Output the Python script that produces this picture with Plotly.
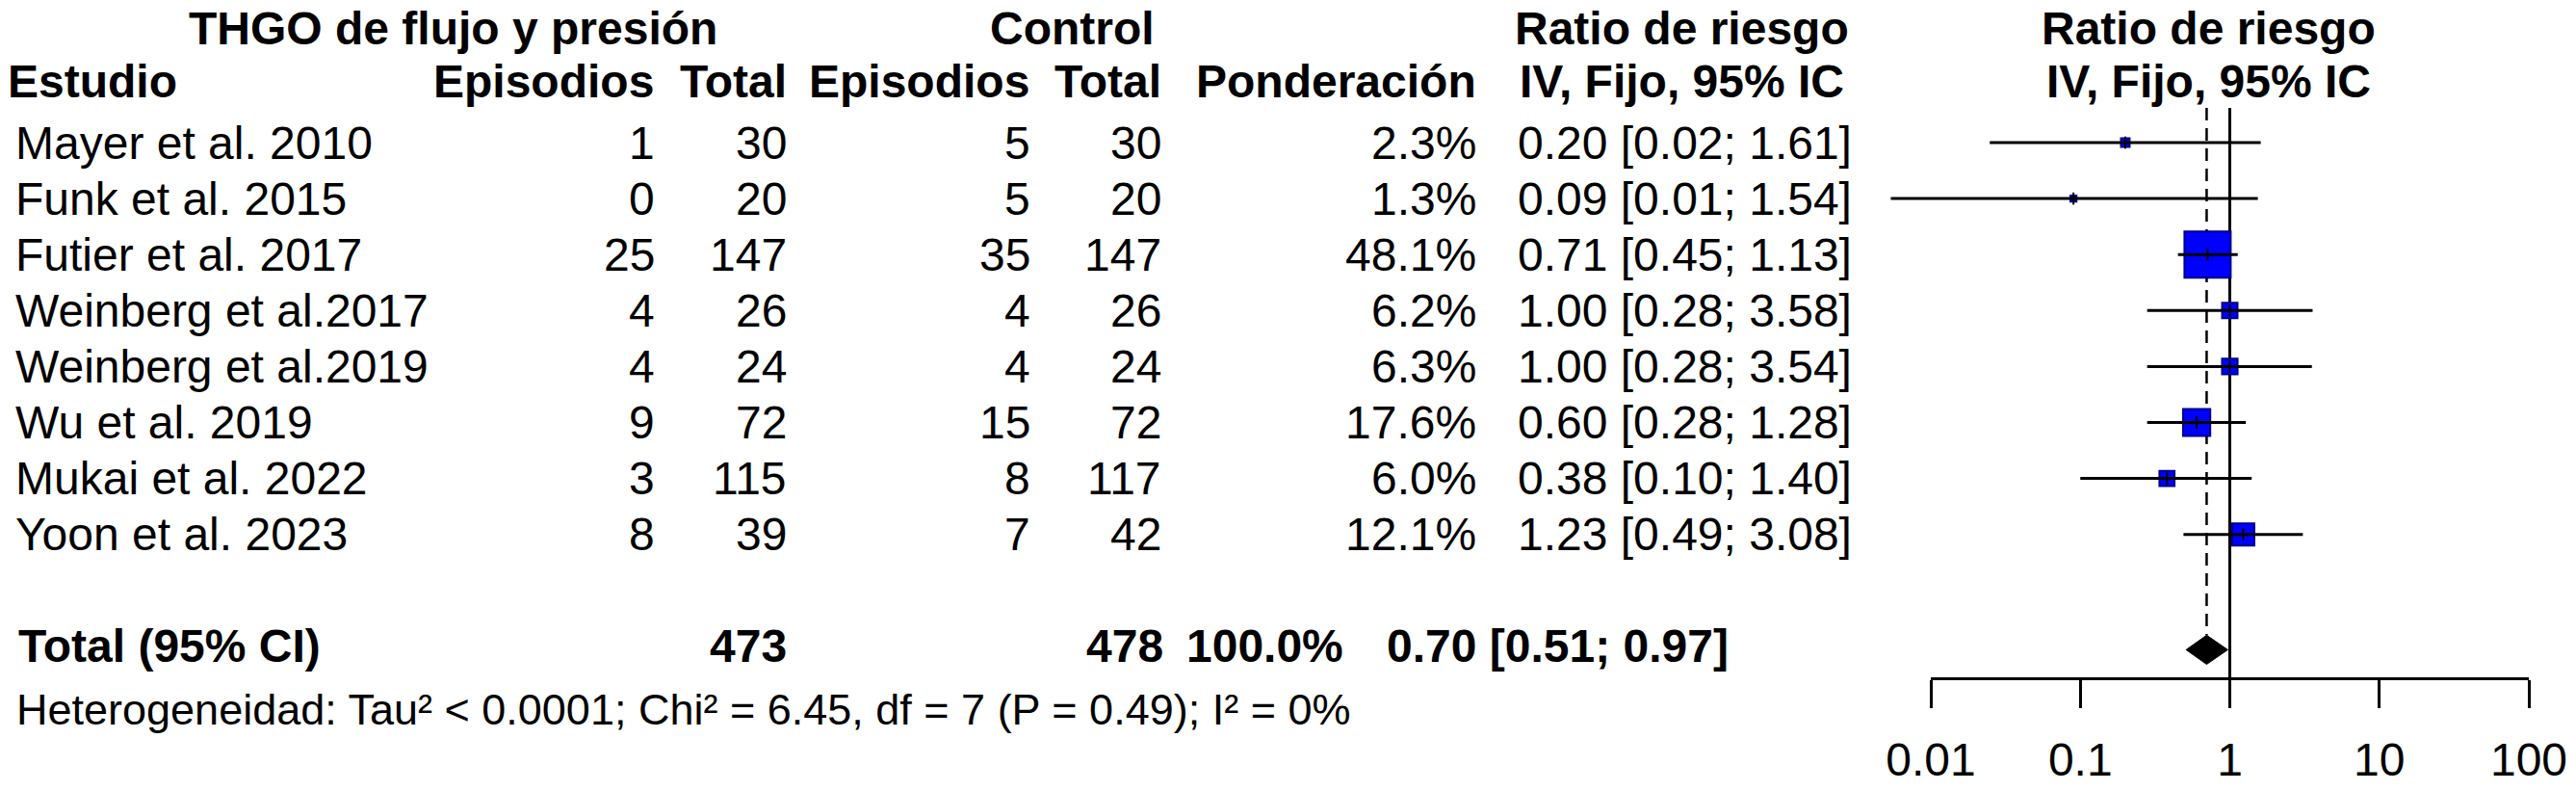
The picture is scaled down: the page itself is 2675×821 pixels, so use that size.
import math
import plotly.graph_objects as go

# ---------------- data ----------------
studies = ["Mayer et al. 2010", "Funk et al. 2015", "Futier et al. 2017",
           "Weinberg et al.2017", "Weinberg et al.2019", "Wu et al. 2019",
           "Mukai et al. 2022", "Yoon et al. 2023"]
exp_events = [1, 0, 25, 4, 4, 9, 3, 8]
exp_total = [30, 20, 147, 26, 24, 72, 115, 39]
ctrl_events = [5, 5, 35, 4, 4, 15, 8, 7]
ctrl_total = [30, 20, 147, 26, 24, 72, 117, 42]
weights = [2.3, 1.3, 48.1, 6.2, 6.3, 17.6, 6.0, 12.1]
rr = [0.20, 0.09, 0.71, 1.00, 1.00, 0.60, 0.38, 1.23]
ci_low = [0.0248, 0.0054, 0.45, 0.28, 0.28, 0.28, 0.10, 0.49]
ci_high = [1.61, 1.54, 1.13, 3.58, 3.54, 1.28, 1.40, 3.08]

total_exp = 473
total_ctrl = 478
total_weight = 100.0
pooled_rr = 0.70
pooled_low = 0.51
pooled_high = 0.97

tick_vals = [0.01, 0.1, 1, 10, 100]
tick_text = ["0.01", "0.1", "1", "10", "100"]

hetero_text = "Heterogeneidad: Tau² < 0.0001; Chi² = 6.45, df = 7 (P = 0.49); I² = 0%"

# ---------------- layout geometry (pixels) ----------------
W, H = 2675, 821
ROW0_PX = 148.0      # pixel centre of first study row
ROW_PX = 58.1        # pixel height of one row
AX_L_PX, AX_R_PX = 2005.0, 2626.0   # pixel positions of 0.01 and 100
AX_Y_PX = 704.0

def row_of(px):
    return (px - ROW0_PX) / ROW_PX

def xp(px):
    return px / W

dec_px = (AX_R_PX - AX_L_PX) / 4.0
x_lo = -2 - AX_L_PX / dec_px
x_hi = 2 + (W - AX_R_PX) / dec_px

FONT = "Liberation Sans, Arial, Helvetica, sans-serif"
FS = 48

fig = go.Figure()

n = len(studies)
rows = list(range(n))
total_row = n + 1
y_top_line = row_of(112)
diamond_half = 0.26
diamond_c = total_row + 0.06

# reference line at RR = 1
fig.add_trace(go.Scatter(x=[1, 1], y=[y_top_line, row_of(AX_Y_PX)], mode="lines",
                         line=dict(color="black", width=3), hoverinfo="skip", showlegend=False))
# pooled estimate dashed line
fig.add_trace(go.Scatter(x=[pooled_rr, pooled_rr], y=[y_top_line, diamond_c - diamond_half],
                         mode="lines", line=dict(color="black", width=2.5, dash="13px,8px"),
                         hoverinfo="skip", showlegend=False))

# squares
max_w = max(weights)
sizes = [50 * math.sqrt(w / max_w) - 2 for w in weights]
fig.add_trace(go.Scatter(x=rr, y=rows, mode="markers",
                         marker=dict(symbol="square", size=sizes, color="#0000FF", opacity=1,
                                     line=dict(color="#00008B", width=2)),
                         hoverinfo="skip", showlegend=False))

# CI lines
cx, cy = [], []
for lo, hi, r in zip(ci_low, ci_high, rows):
    cx += [lo, hi, None]
    cy += [r, r, None]
fig.add_trace(go.Scatter(x=cx, y=cy, mode="lines", line=dict(color="black", width=3),
                         hoverinfo="skip", showlegend=False))
# point tick
fig.add_trace(go.Scatter(x=rr, y=rows, mode="markers",
                         marker=dict(symbol="line-ns", size=9, opacity=1,
                                     line=dict(color="black", width=2)),
                         hoverinfo="skip", showlegend=False))

# diamond
fig.add_trace(go.Scatter(x=[pooled_low, pooled_rr, pooled_high, pooled_rr, pooled_low],
                         y=[diamond_c, diamond_c - diamond_half, diamond_c,
                            diamond_c + diamond_half, diamond_c],
                         mode="lines", fill="toself", fillcolor="black",
                         line=dict(color="black", width=1), hoverinfo="skip", showlegend=False))

# dummy trace for the visible axis subplot
fig.add_trace(go.Scatter(x=[1], y=[None], xaxis="x2", yaxis="y", mode="markers",
                         hoverinfo="skip", showlegend=False))

# ---------------- text table ----------------
ann = []

def txt(x_px, y, s, anchor="right", bold=False, size=FS):
    if bold:
        s = "<b>" + s + "</b>"
    ann.append(dict(x=xp(x_px), xref="paper", y=y, yref="y", text=s, showarrow=False,
                    xanchor=anchor, yanchor="middle", font=dict(family=FONT, size=size, color="black")))

h1 = row_of(29)
h2 = row_of(84)
txt(470, h1, "THGO de flujo y presión", "center", True)
txt(1113, h1, "Control", "center", True)
txt(1747, h1, "Ratio de riesgo", "center", True)
txt(2293, h1, "Ratio de riesgo", "center", True)

txt(6, h2, "Estudio", "left", True)
txt(681, h2, "Episodios", "right", True)
txt(819, h2, "Total", "right", True)
txt(1071, h2, "Episodios", "right", True)
txt(1208, h2, "Total", "right", True)
txt(1535, h2, "Ponderación", "right", True)
txt(1747, h2, "IV, Fijo, 95% IC", "center", True)
txt(2293, h2, "IV, Fijo, 95% IC", "center", True)

for i in range(n):
    txt(14, rows[i], studies[i], "left")
    txt(682, rows[i], str(exp_events[i]))
    txt(819, rows[i], str(exp_total[i]))
    txt(1072, rows[i], str(ctrl_events[i]))
    txt(1208, rows[i], str(ctrl_total[i]))
    txt(1535, rows[i], f"{weights[i]:.1f}%")
    txt(1925, rows[i], f"{rr[i]:.2f} [{ci_low[i]:.2f}; {ci_high[i]:.2f}]")

txt(17, total_row, "Total (95% CI)", "left", True)
txt(819, total_row, str(total_exp), "right", True)
txt(1210, total_row, str(total_ctrl), "right", True)
txt(1397, total_row, f"{total_weight:.1f}%", "right", True)
txt(1797, total_row, f"{pooled_rr:.2f} [{pooled_low:.2f}; {pooled_high:.2f}]", "right", True)

txt(15, row_of(736), hetero_text, "left", size=45)

fig.update_layout(
    width=W, height=H,
    margin=dict(l=0, r=0, t=0, b=0, pad=0, autoexpand=False),
    paper_bgcolor="white", plot_bgcolor="rgba(0,0,0,0)",
    showlegend=False,
    annotations=ann,
    xaxis=dict(type="log", range=[x_lo, x_hi], domain=[0, 1], visible=False,
               fixedrange=True, automargin=False),
    xaxis2=dict(type="log", range=[-2, 2], domain=[xp(AX_L_PX), xp(AX_R_PX)],
                anchor="free", position=(H - AX_Y_PX) / H, side="bottom",
                tickvals=tick_vals, ticktext=tick_text, ticks="outside", ticklen=29,
                tickwidth=3, tickcolor="black", showline=True, linewidth=3, linecolor="black",
                showgrid=False, zeroline=False, ticklabelstandoff=12, automargin=False,
                tickfont=dict(family=FONT, size=FS, color="black"), fixedrange=True),
    yaxis=dict(range=[row_of(H), row_of(0)], domain=[0, 1], visible=False,
               fixedrange=True, automargin=False),
)

fig.write_html("out.html", config={"displayModeBar": False},
               post_script="document.body.style.margin='0px';document.body.style.overflow='hidden';")
